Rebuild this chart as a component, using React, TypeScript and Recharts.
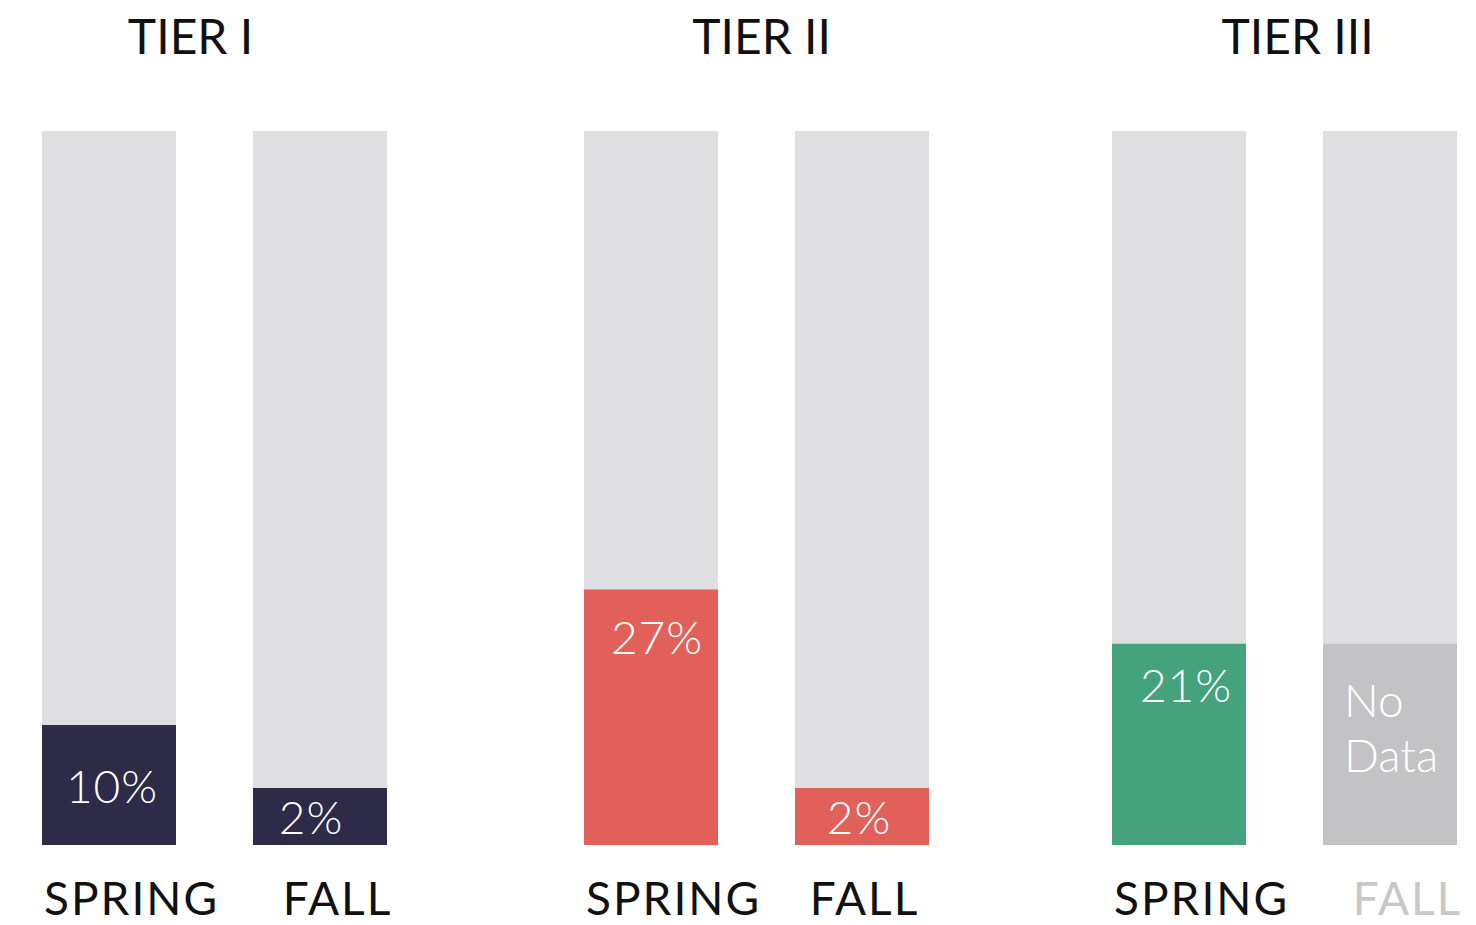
import React from "react";
import { BarChart, Bar, XAxis, YAxis, Cell, LabelList } from "recharts";

// Tier groups, each with a spring and a fall bar
const tiers = ["TIER I", "TIER II", "TIER III"];
const seasons = ["SPRING", "FALL"];
// drawn fill of each bar, as % of the grey track
const fillHeights = [
  [16.8, 8.0],
  [35.8, 8.0],
  [28.2, 28.2],
];
// text printed inside each bar
const valueLabels = [
  ["10%", "2%"],
  ["27%", "2%"],
  ["21%", "No Data"],
];
const tierColors = ["#2d2b48", "#e2605a", "#44a27d"];

const NO_DATA = "No Data";
const TRACK = "#dfdfe1";
const NO_DATA_FILL = "#c3c3c5";
const FONT = "Lato, 'Open Sans', sans-serif";

const CHART_W = 422;
const CHART_H = 925;
const chartLefts = [2.5, 544.5, 1072.5];
const titleShift = [-23, 6, 14];
// small nudges [dx, dy] so the text sits where the original put it
const labelNudge = [
  [[3, 0], [-9, 0]],
  [[6, 1], [-3, 0]],
  [[7, -6], [0, 0]],
];
const tickShift = [
  [23, 18],
  [23, 3],
  [23, 18],
];

const makeValueLabel = (tier: number) => (props: any) => {
  const { x, y, width, height, value, index } = props;
  if (value === NO_DATA) {
    return (
      <text x={x + 21} y={y} fill="#fff" fontSize={46} fontFamily={FONT} fontWeight={300}>
        <tspan x={x + 21} dy={73}>No</tspan>
        <tspan x={x + 21} dy={55}>Data</tspan>
      </text>
    );
  }
  const [dx, dy] = labelNudge[tier][index];
  const tall = height > 180;
  const baseline = tall ? y + 64 : y + height / 2 + 18;
  return (
    <text
      x={x + width / 2 + dx}
      y={baseline + dy}
      fill="#fff"
      fontSize={46}
      fontWeight={300}
      fontFamily={FONT}
      letterSpacing={1}
      textAnchor="middle"
    >
      {value}
    </text>
  );
};

const SeasonTick = (props: any) => {
  const { x, y, payload, noData, shift } = props;
  return (
    <text
      x={x + shift}
      y={y}
      dy={62}
      textAnchor="middle"
      fontSize={46}
      letterSpacing={2}
      fontFamily={FONT}
      fill={noData ? "#c8c8ca" : "#111"}
    >
      {payload.value}
    </text>
  );
};

const TierChart = ({ tier }: { tier: number }) => {
  const data = seasons.map((s, i) => ({
    season: s,
    value: fillHeights[tier][i],
    label: valueLabels[tier][i],
  }));
  return (
    <BarChart
      width={CHART_W}
      height={CHART_H}
      data={data}
      margin={{ top: 131, right: 0, bottom: 0, left: 0 }}
    >
      <XAxis
        dataKey="season"
        height={80}
        axisLine={false}
        tickLine={false}
        interval={0}
        tick={(p: any) => (
          <SeasonTick
            {...p}
            shift={tickShift[tier][p.index]}
            noData={valueLabels[tier][p.index] === NO_DATA}
          />
        )}
      />
      <YAxis hide domain={[0, 100]} />
      <Bar
        dataKey="value"
        barSize={134}
        background={{ fill: TRACK }}
        isAnimationActive={false}
      >
        {data.map((d, i) => (
          <Cell
            key={i}
            fill={d.label === NO_DATA ? NO_DATA_FILL : tierColors[tier]}
          />
        ))}
        <LabelList dataKey="label" content={makeValueLabel(tier)} />
      </Bar>
    </BarChart>
  );
};

export default function App() {
  return (
    <div
      style={{
        position: "absolute",
        top: 0,
        left: 0,
        width: 1476,
        height: 925,
        overflow: "hidden",
        background: "#fff",
      }}
    >
      {tiers.map((t, i) => (
        <div
          key={t}
          style={{ position: "absolute", top: 0, left: chartLefts[i], width: CHART_W }}
        >
          <div
            style={{
              position: "absolute",
              top: 4,
              left: titleShift[i],
              width: CHART_W,
              textAlign: "center",
              fontFamily: FONT,
              fontSize: 48,
              lineHeight: "64px",
              color: "#111",
            }}
          >
            {t}
          </div>
          <TierChart tier={i} />
        </div>
      ))}
    </div>
  );
}
